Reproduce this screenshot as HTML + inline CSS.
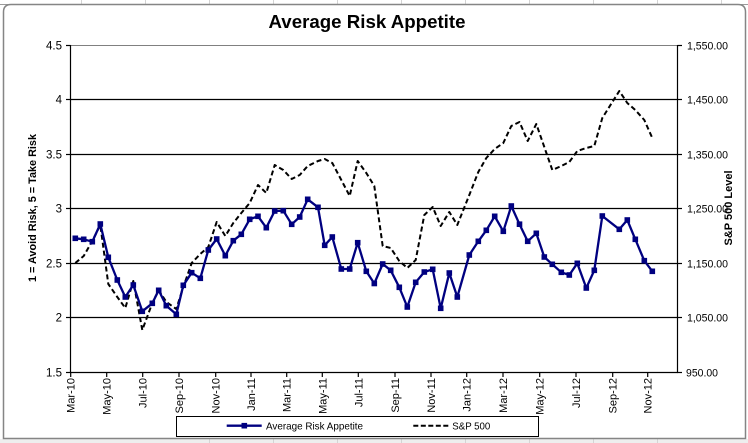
<!DOCTYPE html>
<html><head><meta charset="utf-8"><style>
html,body{margin:0;padding:0;background:#fff;}
svg{display:block;font-family:"Liberation Sans",Arial,sans-serif;}
</style></head><body>
<svg width="748" height="443" viewBox="0 0 748 443" xmlns="http://www.w3.org/2000/svg">
<rect x="0" y="0" width="748" height="443" fill="#ffffff"/>
<rect x="0" y="439" width="748" height="4" fill="#eeeeee"/>
<g stroke="#d4d4d4" stroke-width="1">
<line x1="81.5" y1="0" x2="81.5" y2="4"/><line x1="145.5" y1="0" x2="145.5" y2="4"/><line x1="209.5" y1="0" x2="209.5" y2="4"/><line x1="273.5" y1="0" x2="273.5" y2="4"/><line x1="337.5" y1="0" x2="337.5" y2="4"/><line x1="401.5" y1="0" x2="401.5" y2="4"/><line x1="465.5" y1="0" x2="465.5" y2="4"/><line x1="529.5" y1="0" x2="529.5" y2="4"/><line x1="593.5" y1="0" x2="593.5" y2="4"/><line x1="657.5" y1="0" x2="657.5" y2="4"/><line x1="721.5" y1="0" x2="721.5" y2="4"/>
<line x1="209.5" y1="439" x2="209.5" y2="443"/><line x1="273.5" y1="439" x2="273.5" y2="443"/><line x1="337.5" y1="439" x2="337.5" y2="443"/><line x1="401.5" y1="439" x2="401.5" y2="443"/><line x1="465.5" y1="439" x2="465.5" y2="443"/><line x1="529.5" y1="439" x2="529.5" y2="443"/><line x1="593.5" y1="439" x2="593.5" y2="443"/><line x1="657.5" y1="439" x2="657.5" y2="443"/>
</g>
<line x1="0" y1="4.5" x2="748" y2="4.5" stroke="#9a9a9a" stroke-width="1"/>
<path d="M3.5,438.5 L3.5,12 Q3.5,4.5 11,4.5 L738,4.5 Q745.5,4.5 745.5,12 L745.5,438.5 Z" fill="#ffffff" stroke="#858585" stroke-width="1.5"/>

<text x="367" y="28" font-size="18" font-weight="bold" text-anchor="middle" textLength="197" lengthAdjust="spacingAndGlyphs" fill="#000">Average Risk Appetite</text>

<line x1="70.5" y1="45.5" x2="677.5" y2="45.5" stroke="#808080" stroke-width="1"/>
<g stroke="#000" stroke-width="1.2">
<line x1="70.5" y1="99.5" x2="677.5" y2="99.5"/>
<line x1="70.5" y1="154.5" x2="677.5" y2="154.5"/>
<line x1="70.5" y1="208.5" x2="677.5" y2="208.5"/>
<line x1="70.5" y1="263.5" x2="677.5" y2="263.5"/>
<line x1="70.5" y1="317.5" x2="677.5" y2="317.5"/>
</g>
<g stroke="#000" stroke-width="1.2">
<line x1="70.5" y1="45" x2="70.5" y2="373"/>
<line x1="677.5" y1="45" x2="677.5" y2="373"/>
<line x1="70" y1="372.5" x2="678" y2="372.5"/>
<line x1="66" y1="45.5" x2="70.5" y2="45.5"/><line x1="66" y1="99.5" x2="70.5" y2="99.5"/><line x1="66" y1="154.5" x2="70.5" y2="154.5"/><line x1="66" y1="208.5" x2="70.5" y2="208.5"/><line x1="66" y1="263.5" x2="70.5" y2="263.5"/><line x1="66" y1="317.5" x2="70.5" y2="317.5"/><line x1="66" y1="372.5" x2="70.5" y2="372.5"/>
<line x1="677.5" y1="45.5" x2="682" y2="45.5"/><line x1="677.5" y1="99.5" x2="682" y2="99.5"/><line x1="677.5" y1="154.5" x2="682" y2="154.5"/><line x1="677.5" y1="208.5" x2="682" y2="208.5"/><line x1="677.5" y1="263.5" x2="682" y2="263.5"/><line x1="677.5" y1="317.5" x2="682" y2="317.5"/><line x1="677.5" y1="372.5" x2="682" y2="372.5"/>
<line x1="70.7" y1="372" x2="70.7" y2="377"/><line x1="106.7" y1="372" x2="106.7" y2="377"/><line x1="142.7" y1="372" x2="142.7" y2="377"/><line x1="179" y1="372" x2="179" y2="377"/><line x1="215.7" y1="372" x2="215.7" y2="377"/><line x1="251" y1="372" x2="251" y2="377"/><line x1="286.7" y1="372" x2="286.7" y2="377"/><line x1="322.3" y1="372" x2="322.3" y2="377"/><line x1="358.3" y1="372" x2="358.3" y2="377"/><line x1="395" y1="372" x2="395" y2="377"/><line x1="431" y1="372" x2="431" y2="377"/><line x1="466.7" y1="372" x2="466.7" y2="377"/><line x1="503" y1="372" x2="503" y2="377"/><line x1="539.7" y1="372" x2="539.7" y2="377"/><line x1="576" y1="372" x2="576" y2="377"/><line x1="612.7" y1="372" x2="612.7" y2="377"/><line x1="647.7" y1="372" x2="647.7" y2="377"/>
</g>

<g font-size="11.5" text-anchor="end" fill="#000">
<text x="62" y="49.5">4.5</text>
<text x="62" y="103.5">4</text>
<text x="62" y="158.5">3.5</text>
<text x="62" y="212.5">3</text>
<text x="62" y="267.5">2.5</text>
<text x="62" y="321.5">2</text>
<text x="62" y="376.5">1.5</text>
</g>
<g font-size="11" fill="#000">
<text x="687" y="49.5" textLength="41" lengthAdjust="spacingAndGlyphs">1,550.00</text>
<text x="687" y="103.5" textLength="41" lengthAdjust="spacingAndGlyphs">1,450.00</text>
<text x="687" y="158.5" textLength="41" lengthAdjust="spacingAndGlyphs">1,350.00</text>
<text x="687" y="212.5" textLength="41" lengthAdjust="spacingAndGlyphs">1,250.00</text>
<text x="687" y="267.5" textLength="41" lengthAdjust="spacingAndGlyphs">1,150.00</text>
<text x="687" y="321.5" textLength="41" lengthAdjust="spacingAndGlyphs">1,050.00</text>
<text x="686" y="376.5" textLength="32" lengthAdjust="spacingAndGlyphs">950.00</text>
</g>

<text transform="translate(36,208) rotate(-90)" font-size="11" font-weight="bold" text-anchor="middle" textLength="148" lengthAdjust="spacingAndGlyphs" fill="#000">1 = Avoid Risk, 5 = Take Risk</text>
<text transform="translate(732,208) rotate(-90)" font-size="11" font-weight="bold" text-anchor="middle" textLength="75" lengthAdjust="spacingAndGlyphs" fill="#000">S&amp;P 500 Level</text>

<g font-size="11" text-anchor="end" fill="#000">
<text transform="translate(74.7,378) rotate(-90)">Mar-10</text>
<text transform="translate(110.7,378) rotate(-90)">May-10</text>
<text transform="translate(146.7,378) rotate(-90)">Jul-10</text>
<text transform="translate(183,378) rotate(-90)">Sep-10</text>
<text transform="translate(219.7,378) rotate(-90)">Nov-10</text>
<text transform="translate(255,378) rotate(-90)">Jan-11</text>
<text transform="translate(290.7,378) rotate(-90)">Mar-11</text>
<text transform="translate(326.3,378) rotate(-90)">May-11</text>
<text transform="translate(362.3,378) rotate(-90)">Jul-11</text>
<text transform="translate(399,378) rotate(-90)">Sep-11</text>
<text transform="translate(435,378) rotate(-90)">Nov-11</text>
<text transform="translate(470.7,378) rotate(-90)">Jan-12</text>
<text transform="translate(507,378) rotate(-90)">Mar-12</text>
<text transform="translate(543.7,378) rotate(-90)">May-12</text>
<text transform="translate(580,378) rotate(-90)">Jul-12</text>
<text transform="translate(616.7,378) rotate(-90)">Sep-12</text>
<text transform="translate(651.7,378) rotate(-90)">Nov-12</text>
</g>

<polyline fill="none" stroke="#000" stroke-width="2" stroke-dasharray="5,3" stroke-linejoin="round" points="75.3,263 83.7,256 92.3,241 100.3,225 108.3,284 117.3,297 125.3,308 133.3,281 142.3,330 152.3,303 158.7,290 166.3,302 176.3,309 183.3,287 191.7,263 200.3,254 208.3,247 216.7,222 225.3,236 233.3,223 241.3,213 249.7,203 258,185 266.3,193 274.7,165 283.3,170 291.7,179 299.7,175 307.7,166 318,161 324.7,159 332.3,163 341.3,180 349.7,196 357.7,161 366.3,173 374.3,186 382.7,246 390.7,248 399.3,261 407.3,268 415.7,260 424.3,215 432.7,207 440.7,226 449.3,212 457.3,225 469.3,195 478.3,172 486.3,158 494.7,149 503.3,143 511.3,126 519.5,122 527.7,141 536.3,124 544.3,147 552.3,170 561.3,166 569.3,162 577.3,151 586.3,148 594.3,146 602.3,118 619.3,91 627.3,103 635.3,110 644.3,120 652.3,138"/>

<polyline fill="none" stroke="#000080" stroke-width="2.3" stroke-linejoin="round" points="75.3,238.3 83.7,239.3 92.3,241.7 100.3,224 108.3,257.3 117.3,280 125.3,297 133.3,285 142.3,311.3 152.3,303.3 158.7,290.3 166.3,305.7 176.3,314.3 183.3,285.3 191.7,272.7 200.3,278.3 208.3,250 216.7,239 225.3,255.7 233.3,240.7 241.3,234.3 249.7,219.3 258,216.3 266.3,227.7 274.7,211 283.3,210.7 291.7,224.3 299.7,217 307.7,199.3 318,207.3 324.7,245.3 332.3,237 341.3,269 349.7,269 357.7,242.7 366.3,271.3 374.3,283.5 382.7,264 390.7,270.3 399.3,287.3 407.3,307 415.7,282.3 424.3,272 432.7,269.3 440.7,308.3 449.3,273 457.3,297 469.3,255 478.3,241.3 486.3,230.3 494.7,216.3 503.3,231.3 511.3,206 519.5,224.2 527.7,241.3 536.3,233.3 544.3,257 552.3,264.3 561.3,272.3 569.3,275 577.3,263.3 586.3,288 594.3,270.3 602.3,216 619.3,229.3 627.3,220 635.3,239.3 644.3,260.7 652.3,271.3"/>
<g fill="#000080">
<rect x="72.5" y="235.5" width="5.6" height="5.6"/><rect x="80.9" y="236.5" width="5.6" height="5.6"/><rect x="89.5" y="238.9" width="5.6" height="5.6"/><rect x="97.5" y="221.2" width="5.6" height="5.6"/><rect x="105.5" y="254.5" width="5.6" height="5.6"/><rect x="114.5" y="277.2" width="5.6" height="5.6"/><rect x="122.5" y="294.2" width="5.6" height="5.6"/><rect x="130.5" y="282.2" width="5.6" height="5.6"/><rect x="139.5" y="308.5" width="5.6" height="5.6"/><rect x="149.5" y="300.5" width="5.6" height="5.6"/><rect x="155.9" y="287.5" width="5.6" height="5.6"/><rect x="163.5" y="302.9" width="5.6" height="5.6"/><rect x="173.5" y="311.5" width="5.6" height="5.6"/><rect x="180.5" y="282.5" width="5.6" height="5.6"/><rect x="188.9" y="269.9" width="5.6" height="5.6"/><rect x="197.5" y="275.5" width="5.6" height="5.6"/><rect x="205.5" y="247.2" width="5.6" height="5.6"/><rect x="213.9" y="236.2" width="5.6" height="5.6"/><rect x="222.5" y="252.9" width="5.6" height="5.6"/><rect x="230.5" y="237.9" width="5.6" height="5.6"/><rect x="238.5" y="231.5" width="5.6" height="5.6"/><rect x="246.9" y="216.5" width="5.6" height="5.6"/><rect x="255.2" y="213.5" width="5.6" height="5.6"/><rect x="263.5" y="224.9" width="5.6" height="5.6"/><rect x="271.9" y="208.2" width="5.6" height="5.6"/><rect x="280.5" y="207.9" width="5.6" height="5.6"/><rect x="288.9" y="221.5" width="5.6" height="5.6"/><rect x="296.9" y="214.2" width="5.6" height="5.6"/><rect x="304.9" y="196.5" width="5.6" height="5.6"/><rect x="315.2" y="204.5" width="5.6" height="5.6"/><rect x="321.9" y="242.5" width="5.6" height="5.6"/><rect x="329.5" y="234.2" width="5.6" height="5.6"/><rect x="338.5" y="266.2" width="5.6" height="5.6"/><rect x="346.9" y="266.2" width="5.6" height="5.6"/><rect x="354.9" y="239.9" width="5.6" height="5.6"/><rect x="363.5" y="268.5" width="5.6" height="5.6"/><rect x="371.5" y="280.7" width="5.6" height="5.6"/><rect x="379.9" y="261.2" width="5.6" height="5.6"/><rect x="387.9" y="267.5" width="5.6" height="5.6"/><rect x="396.5" y="284.5" width="5.6" height="5.6"/><rect x="404.5" y="304.2" width="5.6" height="5.6"/><rect x="412.9" y="279.5" width="5.6" height="5.6"/><rect x="421.5" y="269.2" width="5.6" height="5.6"/><rect x="429.9" y="266.5" width="5.6" height="5.6"/><rect x="437.9" y="305.5" width="5.6" height="5.6"/><rect x="446.5" y="270.2" width="5.6" height="5.6"/><rect x="454.5" y="294.2" width="5.6" height="5.6"/><rect x="466.5" y="252.2" width="5.6" height="5.6"/><rect x="475.5" y="238.5" width="5.6" height="5.6"/><rect x="483.5" y="227.5" width="5.6" height="5.6"/><rect x="491.9" y="213.5" width="5.6" height="5.6"/><rect x="500.5" y="228.5" width="5.6" height="5.6"/><rect x="508.5" y="203.2" width="5.6" height="5.6"/><rect x="516.7" y="221.4" width="5.6" height="5.6"/><rect x="524.9" y="238.5" width="5.6" height="5.6"/><rect x="533.5" y="230.5" width="5.6" height="5.6"/><rect x="541.5" y="254.2" width="5.6" height="5.6"/><rect x="549.5" y="261.5" width="5.6" height="5.6"/><rect x="558.5" y="269.5" width="5.6" height="5.6"/><rect x="566.5" y="272.2" width="5.6" height="5.6"/><rect x="574.5" y="260.5" width="5.6" height="5.6"/><rect x="583.5" y="285.2" width="5.6" height="5.6"/><rect x="591.5" y="267.5" width="5.6" height="5.6"/><rect x="599.5" y="213.2" width="5.6" height="5.6"/><rect x="616.5" y="226.5" width="5.6" height="5.6"/><rect x="624.5" y="217.2" width="5.6" height="5.6"/><rect x="632.5" y="236.5" width="5.6" height="5.6"/><rect x="641.5" y="257.9" width="5.6" height="5.6"/><rect x="649.5" y="268.5" width="5.6" height="5.6"/>
</g>

<rect x="176.5" y="416.5" width="362" height="20" fill="#fff" stroke="#000" stroke-width="1"/>
<line x1="226.7" y1="425.7" x2="261.7" y2="425.7" stroke="#000080" stroke-width="2.3"/>
<rect x="241.5" y="422.9" width="5.6" height="5.6" fill="#000080"/>
<text x="266" y="429.5" font-size="10.5" textLength="97" lengthAdjust="spacingAndGlyphs" fill="#000">Average Risk Appetite</text>
<line x1="413.3" y1="425.7" x2="448.3" y2="425.7" stroke="#000" stroke-width="2" stroke-dasharray="5,2.5"/>
<text x="452.3" y="429.5" font-size="10.5" textLength="38" lengthAdjust="spacingAndGlyphs" fill="#000">S&amp;P 500</text>
</svg>
</body></html>
